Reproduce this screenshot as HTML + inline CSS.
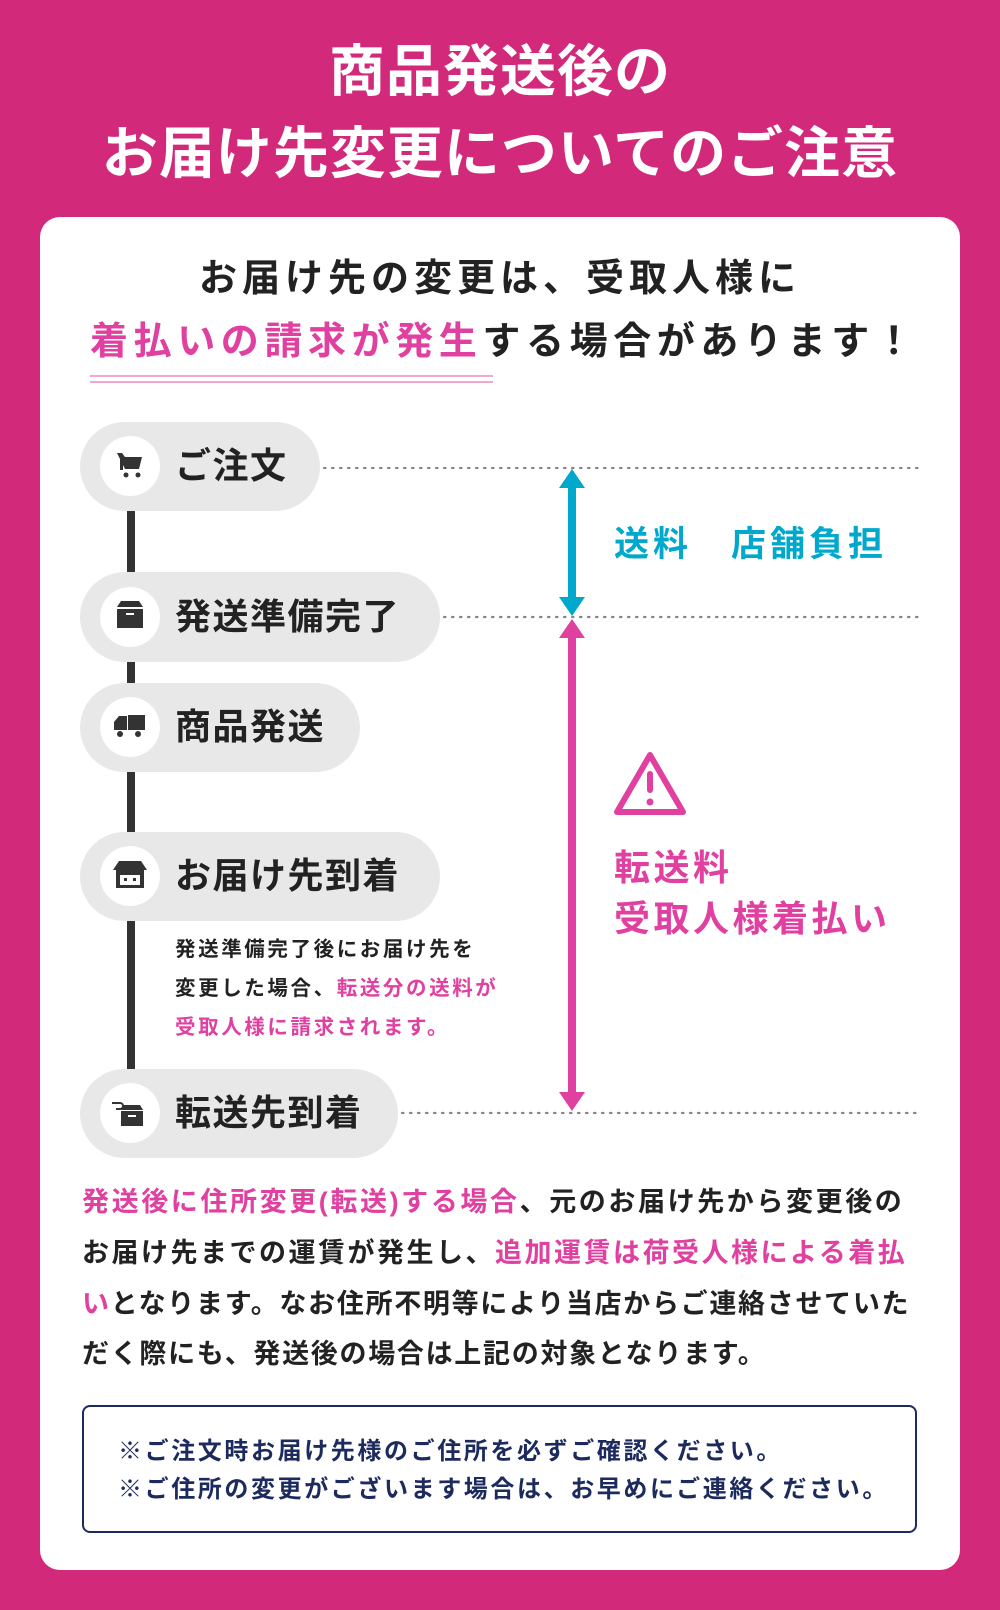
<!DOCTYPE html>
<html><head><meta charset="utf-8"><style>
*{margin:0;padding:0;box-sizing:border-box}
body{width:1000px;height:1610px;background:#d2297b;position:relative;overflow:hidden;font-family:"Liberation Sans","Noto Sans CJK JP",sans-serif;font-weight:bold}
.a{position:absolute;white-space:nowrap}
.t{color:#fff;font-size:56px;left:0;width:1000px;text-align:center;line-height:70px;letter-spacing:1px}
.pk{color:#e040a0}
.dk{color:#222}
.pl{font-size:36px;color:#222;line-height:40px;letter-spacing:1.5px}
.sm{font-size:20.5px;line-height:24px;color:#222;left:175px;letter-spacing:2.6px}
.pg{font-size:27px;line-height:32px;color:#222;left:82px}
.bx{font-size:24px;line-height:28px;color:#1c2a5e;left:118px;letter-spacing:2.6px}
</style></head><body>
<div class="a t" style="top:37px">商品発送後の</div>
<div class="a t" style="top:119px">お届け先変更についてのご注意</div>
<div class="a" style="left:40px;top:217px;width:920px;height:1353px;background:#fff;border-radius:20px"></div>
<div class="a dk" style="left:0;width:1000px;text-align:center;top:257px;font-size:38px;line-height:44px;letter-spacing:5px">お届け先の変更は、受取人様に</div>
<div class="a dk" style="left:90px;top:320px;font-size:38px;line-height:44px;letter-spacing:5.6px"><span class="pk">着払いの請求が発生</span>する場合があります！</div>
<svg class="a" style="left:0;top:0" width="1000" height="1610">
<line x1="90" y1="376" x2="493" y2="376" stroke="#f3a6cf" stroke-width="2"/>
<line x1="90" y1="382" x2="493" y2="382" stroke="#f3a6cf" stroke-width="2"/>
<g fill="#333"><rect x="127" y="505" width="8" height="80"/><rect x="127" y="655" width="8" height="40"/><rect x="127" y="765" width="8" height="80"/><rect x="127" y="915" width="8" height="165"/></g>
<g fill="#e8e8e8">
<rect x="80" y="422" width="240" height="89" rx="44.5"/>
<rect x="80" y="572" width="360" height="90" rx="45"/>
<rect x="80" y="683" width="280" height="89" rx="44.5"/>
<rect x="80" y="832" width="360" height="89" rx="44.5"/>
<rect x="80" y="1069" width="318" height="89" rx="44.5"/>
</g>
<g fill="#fff"><circle cx="130" cy="466" r="30"/><circle cx="130" cy="617" r="30"/><circle cx="130" cy="727" r="30"/><circle cx="130" cy="876" r="30"/><circle cx="130" cy="1113" r="30"/></g>
<g fill="#333" stroke="none">
<path d="M117 453h5l3 4h17l-3 12h-14z"/><rect x="120" y="455" width="3" height="15"/><circle cx="126" cy="475" r="2.5"/><circle cx="138" cy="475" r="2.5"/>
<path d="M117 607l4-6h18l4 6z"/><rect x="117" y="609" width="26" height="19"/><rect x="126" y="613" width="8" height="2" fill="#fff"/>
<rect x="128" y="715" width="17" height="15"/><path d="M114 730v-8l5-6h8v14z"/><circle cx="120" cy="734" r="3"/><circle cx="138" cy="734" r="3"/>
<path d="M113 870l6-9h22l6 9z"/><rect x="116" y="870" width="28" height="18"/><rect x="120" y="875" width="20" height="10" fill="#fff"/><rect x="124" y="878" width="3" height="3"/><rect x="133" y="878" width="3" height="3"/>
<path d="M121 1110l3-5h16l3 5z"/><rect x="121" y="1111" width="22" height="15"/><rect x="128" y="1115" width="8" height="2" fill="#fff"/><path d="M112 1103h8a3 3 0 0 1 0 6h-4" fill="none" stroke="#333" stroke-width="2"/>
</g>
<g stroke="#888" stroke-width="2.2" stroke-dasharray="1.5 6.5" stroke-linecap="round">
<line x1="324" y1="468" x2="918" y2="468"/><line x1="444" y1="617" x2="918" y2="617"/><line x1="402" y1="1113" x2="918" y2="1113"/>
</g>
<rect x="568" y="485" width="8" height="115" fill="#00a8cc"/>
<path d="M572 469l13 19h-26zM572 616l13-19h-26z" fill="#00a8cc"/>
<rect x="568" y="635" width="8" height="460" fill="#e040a0"/>
<path d="M572 619l13 19h-26zM572 1111l13-19h-26z" fill="#e040a0"/>
<path d="M650 755l33 57h-66z" fill="none" stroke="#e040a0" stroke-width="6" stroke-linejoin="round"/>
<rect x="647" y="771" width="6" height="22" rx="3" fill="#e040a0"/><circle cx="650" cy="802" r="3.5" fill="#e040a0"/>
</svg>
<div class="a pl" style="left:175px;top:446px">ご注文</div>
<div class="a pl" style="left:175px;top:597px">発送準備完了</div>
<div class="a pl" style="left:175px;top:707px">商品発送</div>
<div class="a pl" style="left:175px;top:856px">お届け先到着</div>
<div class="a pl" style="left:175px;top:1093px">転送先到着</div>
<div class="a" style="left:614px;top:525px;font-size:35px;line-height:40px;color:#00a8cc;letter-spacing:4px">送料　店舗負担</div>
<div class="a pk" style="left:614px;top:847px;font-size:36px;line-height:42px;letter-spacing:3.5px">転送料</div>
<div class="a pk" style="left:614px;top:898px;font-size:36px;line-height:42px;letter-spacing:3.5px">受取人様着払い</div>
<div class="a sm" style="top:938px">発送準備完了後にお届け先を</div>
<div class="a sm" style="top:977px">変更した場合、<span class="pk">転送分の送料が</span></div>
<div class="a sm pk" style="top:1016px;color:#e040a0">受取人様に請求されます。</div>
<div class="a pg" style="top:1186px;letter-spacing:2.6px"><span class="pk">発送後に住所変更(転送)する場合</span>、元のお届け先から変更後の</div>
<div class="a pg" style="top:1237px;letter-spacing:2.5px">お届け先までの運賃が発生し、<span class="pk">追加運賃は荷受人様による着払</span></div>
<div class="a pg" style="top:1288px;letter-spacing:1.7px"><span class="pk">い</span>となります。なお住所不明等により当店からご連絡させていた</div>
<div class="a pg" style="top:1338px;letter-spacing:1.7px">だく際にも、発送後の場合は上記の対象となります。</div>
<div class="a" style="left:82px;top:1405px;width:835px;height:128px;border:2px solid #1c2a5e;border-radius:8px"></div>
<div class="a bx" style="top:1438px">※ご注文時お届け先様のご住所を必ずご確認ください。</div>
<div class="a bx" style="top:1476px">※ご住所の変更がございます場合は、お早めにご連絡ください。</div>
</body></html>
